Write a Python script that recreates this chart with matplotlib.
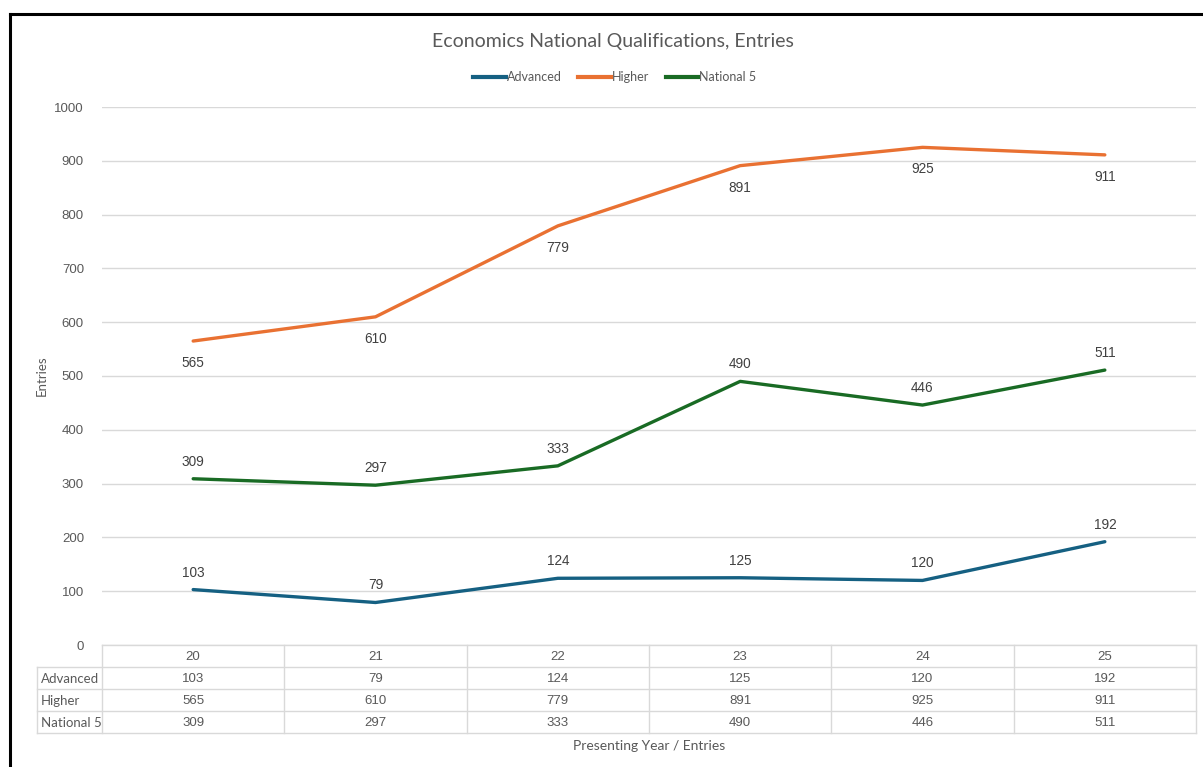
import matplotlib
matplotlib.use("Agg")
import matplotlib.pyplot as plt
from matplotlib.lines import Line2D

years = ["20", "21", "22", "23", "24", "25"]
series_names = ["Advanced", "Higher", "National 5"]
advanced = [103, 79, 124, 125, 120, 192]
higher = [565, 610, 779, 891, 925, 911]
national5 = [309, 297, 333, 490, 446, 511]
y_ticks = [0, 100, 200, 300, 400, 500, 600, 700, 800, 900, 1000]

colors = ["#156082", "#E97132", "#196B24"]
label_offsets = [17, -22, 17]  # pixels above (+) / below (-) each point
series_values = [advanced, higher, national5]

TXT = "#595959"
GRID = "#D9D9D9"
FONT = ["Lato", "DejaVu Sans"]
NUMFONT = ["Liberation Sans", "DejaVu Sans"]

W, H = 1203, 767
fig = plt.figure(figsize=(W / 100, H / 100), dpi=100)
fig.patch.set_facecolor("white")


def fx(px):
    return px / W


def fy(py):
    return 1 - py / H


# frame lines along top and left edge
fig.add_artist(Line2D([fx(10), fx(W)], [fy(14), fy(14)], color="black", lw=2.2))
fig.add_artist(Line2D([fx(10), fx(10)], [fy(14), fy(H)], color="black", lw=2.2))

# plot area
L, R, T, B = 102, 1196, 107, 645
ax = fig.add_axes([fx(L), fy(B), fx(R) - fx(L), fy(T) - fy(B)])
ax.set_xlim(-0.5, len(years) - 0.5)
ax.set_ylim(0, 1000)
for s in ax.spines.values():
    s.set_visible(False)
ax.set_yticks(y_ticks)
ax.set_yticklabels([str(v) for v in y_ticks], fontsize=9.5, color=TXT, family=NUMFONT)
ax.tick_params(axis="y", length=0, pad=13)
ax.set_xticks([])
ax.grid(axis="y", color=GRID, lw=1)
ax.set_axisbelow(True)

x = list(range(len(years)))
for name, vals, c, off in zip(series_names, series_values, colors, label_offsets):
    ax.plot(x, vals, color=c, lw=2.4, solid_capstyle="round", label=name, zorder=3)
    for xi, v in zip(x, vals):
        ax.annotate(str(v), (xi, v), xytext=(0, off), textcoords="offset pixels",
                    ha="center", va="center", fontsize=9.8, color="#404040",
                    family=NUMFONT)

# title and legend
fig.text(fx(613), fy(41), "Economics National Qualifications, Entries",
         ha="center", va="center", fontsize=14, color=TXT, family=FONT)
handles = [Line2D([0], [0], color=c, lw=3) for c in colors]
fig.legend(handles, series_names, loc="center", bbox_to_anchor=(fx(615), fy(77)),
           ncol=3, frameon=False, fontsize=9, handlelength=2.6, handletextpad=0.1,
           columnspacing=1.3, labelcolor=TXT, prop={"family": FONT, "size": 9})

# axis titles
fig.text(fx(42), fy(376), "Entries", rotation=90, ha="center", va="center",
         fontsize=9.5, color=TXT, family=FONT)
fig.text(fx(649), fy(746), "Presenting Year / Entries", ha="center", va="center",
         fontsize=10, color=TXT, family=FONT)

# data table below the plot area
TL = 37
row_h = 22
tab = fig.add_axes([fx(TL), fy(B + 4 * row_h), fx(R) - fx(TL), fy(B) - fy(B + 4 * row_h)])
tab.set_axis_off()
lab_w = (L - TL) / (R - L) * len(years)  # width of label column in category units
tab.set_xlim(-0.5 - lab_w, len(years) - 0.5)
tab.set_ylim(4, 0)
lk = dict(color=GRID, lw=1, clip_on=False)
# horizontal lines
tab.plot([-0.5, len(years) - 0.5], [0, 0], **lk)
for r in range(1, 5):
    tab.plot([-0.5 - lab_w, len(years) - 0.5], [r, r], **lk)
# vertical lines
for i in range(len(years) + 1):
    tab.plot([i - 0.5, i - 0.5], [0, 4], **lk)
tab.plot([-0.5 - lab_w, -0.5 - lab_w], [1, 4], **lk)
dy = 0.55
for i, yr in enumerate(years):
    tab.text(i, dy, yr, ha="center", va="center", fontsize=9.5, color=TXT, family=NUMFONT)
for r, (name, vals) in enumerate(zip(series_names, series_values), start=1):
    tab.text(-0.5 - lab_w + 0.02, r + dy, name, ha="left", va="center",
             fontsize=9.5, color=TXT, family=FONT)
    for i, v in enumerate(vals):
        tab.text(i, r + dy, str(v), ha="center", va="center", fontsize=9.5,
                 color=TXT, family=NUMFONT)

fig.savefig("out.png", dpi=100, facecolor="white")
